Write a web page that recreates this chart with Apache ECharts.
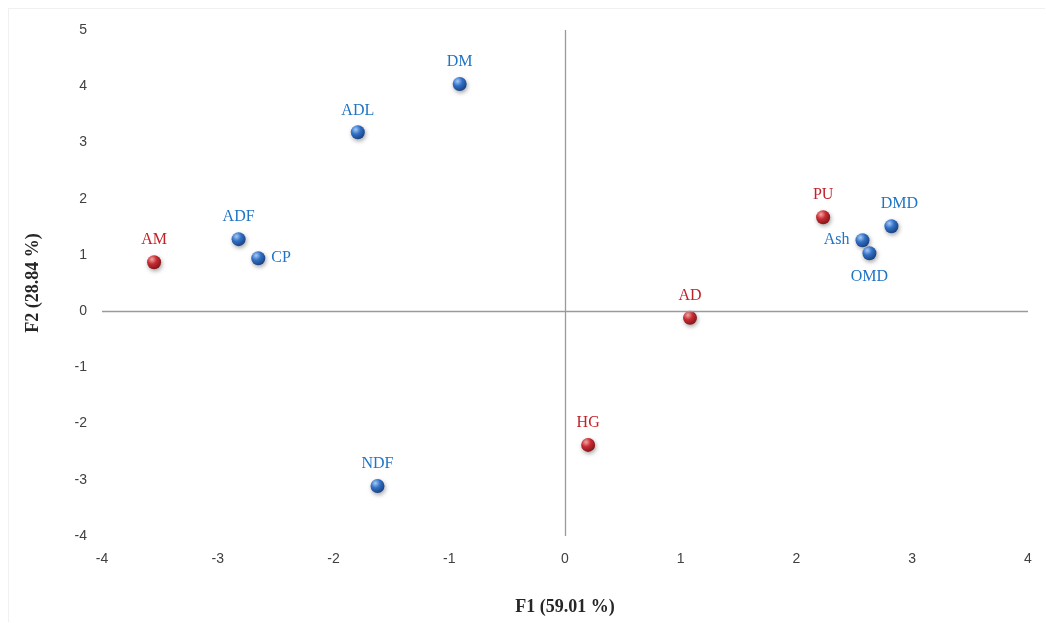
<!DOCTYPE html>
<html>
<head>
<meta charset="utf-8">
<script src="https://cdn.jsdelivr.net/npm/echarts@6/dist/echarts.min.js"></script>
<style>
html,body{margin:0;padding:0;background:#fff;}
#frame{position:absolute;left:8px;top:8px;width:1037px;height:614px;border:1px solid #f0f0f0;border-right:none;border-bottom:none;box-sizing:border-box;}
#chart{position:absolute;left:0;top:0;width:1046px;height:623px;}
</style>
</head>
<body>
<div id="frame"></div>
<div id="chart"></div>
<script>
// Variables (blue)
const varNames = ['DM','ADL','ADF','CP','NDF','DMD','Ash','OMD'];
const varX     = [-0.91, -1.79, -2.82, -2.65, -1.62, 2.82, 2.57, 2.63];
const varY     = [4.04, 3.18, 1.28, 0.94, -3.11, 1.51, 1.26, 1.03];
const varLabelPos = ['top','top','top','right','top','top','left','bottom'];
// Observations (red)
const obsNames = ['AM','PU','AD','HG'];
const obsX     = [-3.55, 2.23, 1.08, 0.20];
const obsY     = [0.87, 1.67, -0.12, -2.38];
const obsLabelPos = ['top','top','top','top'];
const xTitle = 'F1 (59.01 %)';
const yTitle = 'F2 (28.84 %)';

const blueCol = '#1f74c6';
const redCol = '#c0222a';

function sphere(base, light, dark){
  return new echarts.graphic.RadialGradient(0.35, 0.3, 0.75, [
    {offset:0, color: light},
    {offset:0.45, color: base},
    {offset:1, color: dark}
  ]);
}

function build(names, xs, ys, pos){
  return names.map((n,i)=>({
    name:n, value:[xs[i], ys[i]],
    label:{position:pos[i], distance: pos[i]==='top'?7:(pos[i]==='bottom'?9:6),
      offset: n==='DMD'?[8,0]:[0,0]}
  }));
}

const chart = echarts.init(document.getElementById('chart'));
chart.setOption({
  animation:false,
  grid:{left:102, right:18, top:30, bottom:87, containLabel:false},
  xAxis:{
    type:'value', min:-4, max:4, interval:1,
    axisLine:{show:false}, axisTick:{show:false}, splitLine:{show:false},
    axisLabel:{color:'#404040', fontSize:14, fontFamily:'Liberation Sans', margin:16},
    name:xTitle, nameLocation:'middle', nameGap:62,
    nameTextStyle:{fontFamily:'Liberation Serif', fontWeight:'bold', fontSize:18, color:'#262626'}
  },
  yAxis:{
    type:'value', min:-4, max:5, interval:1,
    axisLine:{show:false}, axisTick:{show:false}, splitLine:{show:false},
    axisLabel:{color:'#404040', fontSize:14, fontFamily:'Liberation Sans', margin:15},
    name:yTitle, nameLocation:'middle', nameGap:60, nameRotate:90,
    nameTextStyle:{fontFamily:'Liberation Serif', fontWeight:'bold', fontSize:18, color:'#262626'}
  },
  series:[
    {
      type:'scatter', symbolSize:14, z:3,
      data: build(varNames, varX, varY, varLabelPos),
      itemStyle:{opacity:1, color: sphere('#3270c6','#a6caf5','#173f7d'), shadowBlur:4, shadowColor:'rgba(0,0,0,0.35)', shadowOffsetX:1, shadowOffsetY:2},
      label:{show:true, formatter:'{b}', color:blueCol, fontFamily:'Liberation Serif', fontSize:16},
      markLine:{
        silent:true, symbol:'none', animation:false,
        lineStyle:{color:'#9a9a9a', width:1.3, type:'solid'},
        label:{show:false},
        data:[{xAxis:0},{yAxis:0}]
      }
    },
    {
      type:'scatter', symbolSize:14, z:3,
      data: build(obsNames, obsX, obsY, obsLabelPos),
      itemStyle:{opacity:1, color: sphere('#c62b32','#f5a5a5','#7e1519'), shadowBlur:4, shadowColor:'rgba(0,0,0,0.35)', shadowOffsetX:1, shadowOffsetY:2},
      label:{show:true, formatter:'{b}', color:redCol, fontFamily:'Liberation Serif', fontSize:16}
    }
  ]
});
</script>
</body>
</html>
